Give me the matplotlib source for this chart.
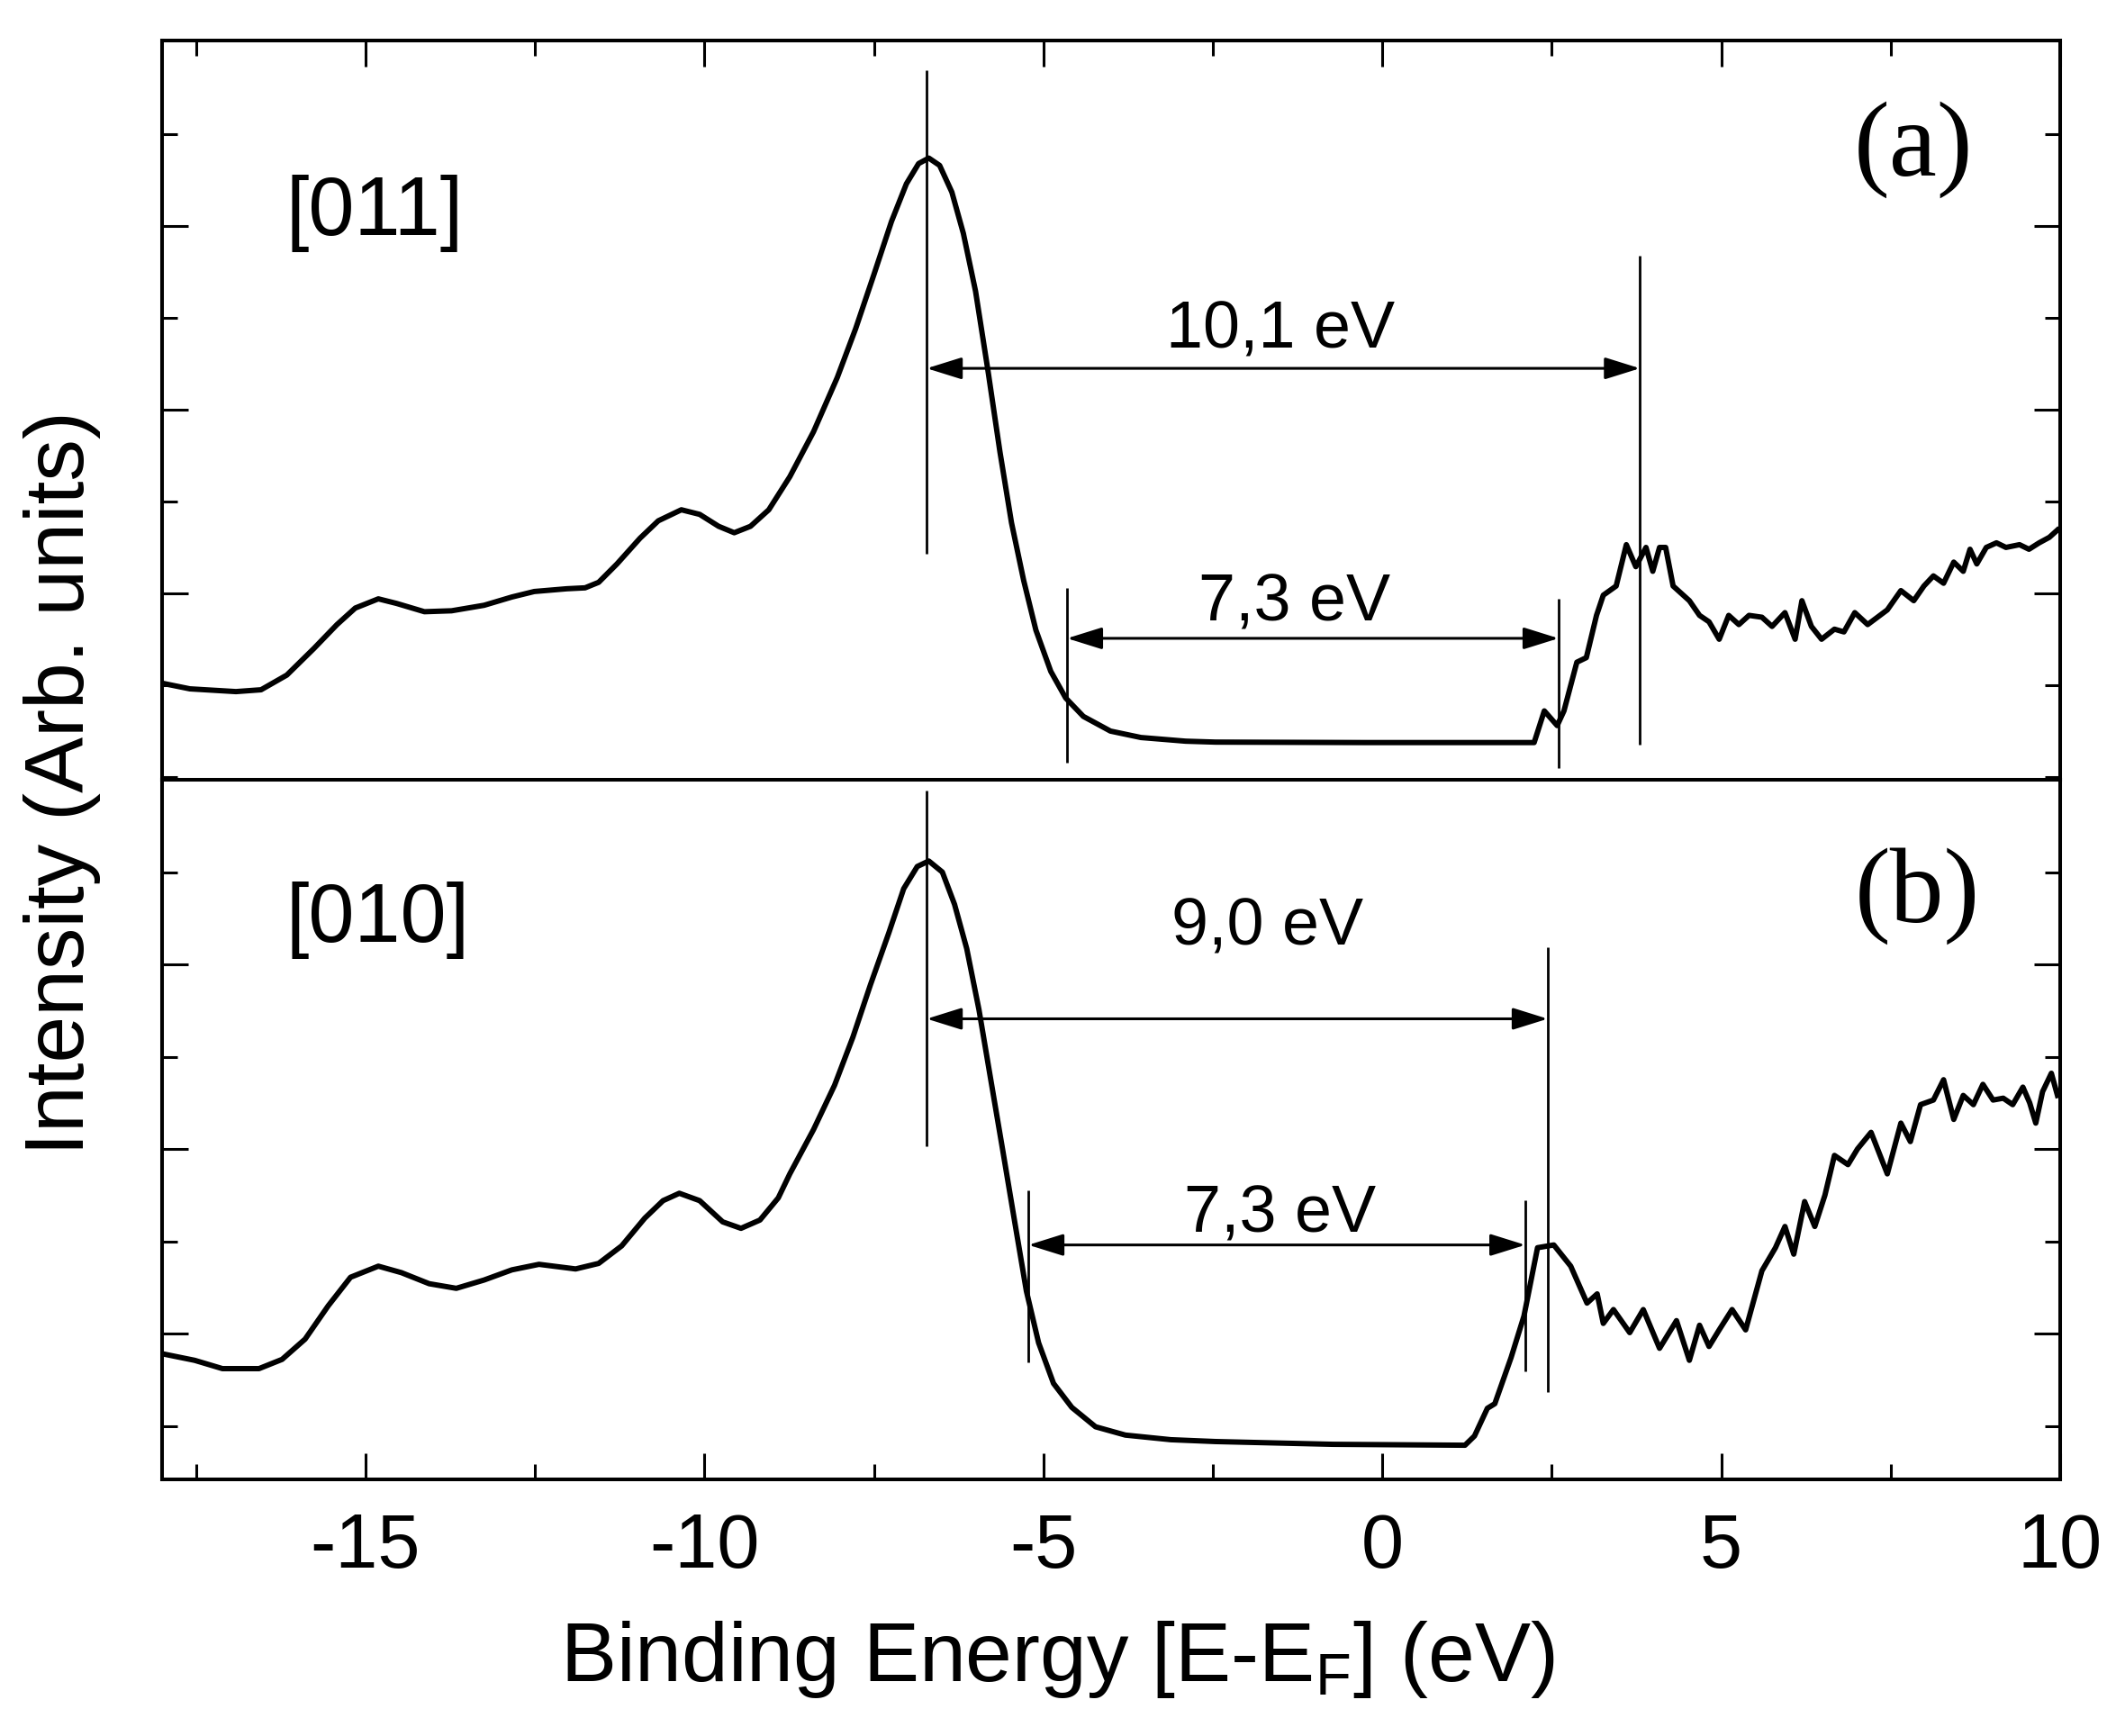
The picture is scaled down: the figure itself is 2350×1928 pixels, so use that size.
import matplotlib
matplotlib.use('Agg')
import matplotlib.pyplot as plt
from matplotlib.ticker import MultipleLocator, FixedLocator

plt.rcParams['font.family'] = ['Liberation Sans', 'DejaVu Sans']
plt.rcParams['mathtext.fontset'] = 'custom'
plt.rcParams['mathtext.rm'] = 'Liberation Sans'
plt.rcParams['axes.unicode_minus'] = False

# panel (a) [011]
xa = [-17.99, -17.59, -16.91, -16.54, -16.16, -15.76, -15.42, -15.15, -14.81, -14.54,
      -14.13, -13.73, -13.25, -12.84, -12.51, -12.03, -11.76, -11.56, -11.29, -10.95,
      -10.68, -10.34, -10.07, -9.79, -9.56, -9.32, -9.05, -8.74, -8.39, -8.04,
      -7.77, -7.50, -7.24, -7.02, -6.84, -6.69, -6.53, -6.35, -6.18, -6.00,
      -5.82, -5.64, -5.47, -5.29, -5.11, -4.89, -4.67, -4.41, -4.01, -3.56,
      -2.90, -2.46, -0.24, 2.24, 2.39, 2.58, 2.68, 2.87, 3.01, 3.16,
      3.26, 3.45, 3.60, 3.74, 3.89, 3.99, 4.09, 4.18, 4.29, 4.53,
      4.68, 4.82, 4.97, 5.11, 5.26, 5.41, 5.60, 5.75, 5.94, 6.09,
      6.19, 6.33, 6.48, 6.67, 6.81, 6.97, 7.16, 7.45, 7.65, 7.84,
      7.99, 8.13, 8.28, 8.43, 8.57, 8.67, 8.77, 8.91, 9.06, 9.20,
      9.40, 9.54, 9.69, 9.84, 9.96]
ya = [1.02, 0.96, 0.93, 0.95, 1.11, 1.40, 1.66, 1.84, 1.94, 1.89,
      1.80, 1.81, 1.87, 1.96, 2.02, 2.05, 2.06, 2.12, 2.32, 2.60,
      2.79, 2.91, 2.86, 2.73, 2.66, 2.73, 2.91, 3.27, 3.76, 4.35,
      4.88, 5.47, 6.05, 6.46, 6.68, 6.74, 6.66, 6.37, 5.92, 5.29,
      4.44, 3.54, 2.77, 2.14, 1.60, 1.15, 0.86, 0.66, 0.50, 0.43,
      0.39, 0.38, 0.375, 0.375, 0.72, 0.56, 0.72, 1.25, 1.30, 1.76,
      1.98, 2.08, 2.53, 2.29, 2.50, 2.24, 2.50, 2.50, 2.08, 1.92,
      1.76, 1.69, 1.50, 1.76, 1.66, 1.76, 1.74, 1.64, 1.79, 1.50,
      1.92, 1.64, 1.50, 1.61, 1.58, 1.79, 1.66, 1.82, 2.03, 1.92,
      2.08, 2.19, 2.11, 2.34, 2.24, 2.48, 2.32, 2.50, 2.55, 2.50,
      2.53, 2.48, 2.55, 2.61, 2.69]

# panel (b) [010]
xb = [-17.99, -17.52, -17.11, -16.57, -16.23, -15.89, -15.55, -15.22, -14.81, -14.47,
      -14.06, -13.66, -13.25, -12.84, -12.44, -11.90, -11.56, -11.22, -10.88, -10.61,
      -10.37, -10.07, -9.73, -9.46, -9.18, -8.91, -8.74, -8.39, -8.08, -7.81,
      -7.55, -7.28, -7.06, -6.86, -6.69, -6.49, -6.31, -6.13, -5.95, -5.78,
      -5.60, -5.42, -5.25, -5.07, -4.85, -4.58, -4.23, -3.79, -3.12, -2.46,
      -0.73, 1.22, 1.36, 1.55, 1.66, 1.90, 2.09, 2.29, 2.53, 2.78,
      3.02, 3.17, 3.26, 3.41, 3.65, 3.85, 4.09, 4.34, 4.53, 4.68,
      4.82, 4.97, 5.16, 5.36, 5.60, 5.80, 5.94, 6.07, 6.23, 6.38,
      6.53, 6.67, 6.87, 7.01, 7.21, 7.45, 7.65, 7.79, 7.94, 8.13,
      8.28, 8.43, 8.57, 8.72, 8.86, 9.01, 9.16, 9.30, 9.45, 9.55,
      9.64, 9.74, 9.87, 9.96]
yb = [0.78, 0.71, 0.62, 0.62, 0.72, 0.94, 1.30, 1.61, 1.73, 1.66,
      1.54, 1.49, 1.58, 1.69, 1.75, 1.70, 1.76, 1.95, 2.25, 2.44,
      2.52, 2.44, 2.21, 2.14, 2.23, 2.47, 2.73, 3.21, 3.69, 4.21,
      4.78, 5.34, 5.82, 6.06, 6.12, 6.00, 5.65, 5.17, 4.51, 3.77,
      2.99, 2.20, 1.46, 0.90, 0.46, 0.20, -0.01, -0.10, -0.15, -0.17,
      -0.20, -0.21, -0.11, 0.19, 0.24, 0.74, 1.19, 1.93, 1.96, 1.73,
      1.33, 1.43, 1.11, 1.26, 1.01, 1.26, 0.84, 1.14, 0.71, 1.09,
      0.86, 1.04, 1.26, 1.04, 1.68, 1.93, 2.16, 1.86, 2.43, 2.16,
      2.50, 2.93, 2.83, 3.00, 3.18, 2.73, 3.28, 3.08, 3.48, 3.53,
      3.75, 3.32, 3.58, 3.48, 3.70, 3.53, 3.55, 3.48, 3.67, 3.50,
      3.28, 3.62, 3.82, 3.58]

# marker lines: x, y_low, y_high
a_lines_x = [-6.72, 3.80, -4.65, 2.60]
a_lines_lo = [2.43, 0.35, 0.16, 0.10]
a_lines_hi = [7.70, 5.68, 2.06, 1.94]
b_lines_x = [-6.72, 2.44, -5.22, 2.11]
b_lines_lo = [3.03, 0.37, 0.69, 0.59]
b_lines_hi = [6.88, 5.19, 2.55, 2.44]

# arrows: x start, x end, y, label, label x, label y
a_arrows = [(-6.72, 3.80, 4.45, '10,1 eV', -1.5, 4.94),
            (-4.65, 2.60, 1.51, '7,3 eV', -1.3, 1.97)]
b_arrows = [(-6.72, 2.44, 4.41, '9,0 eV', -1.70, 5.47),
            (-5.22, 2.11, 1.96, '7,3 eV', -1.51, 2.36)]

fig = plt.figure(figsize=(23.5, 19.28), dpi=100)
ax1 = fig.add_axes([0.0766, 0.55083, 0.89702, 0.42583])
ax2 = fig.add_axes([0.0766, 0.14782, 0.89702, 0.40301])

panels = [
    (ax1, xa, ya, a_lines_x, a_lines_lo, a_lines_hi, a_arrows, (-0.03, 8.02),
     [2, 4, 6], [0, 1, 3, 5, 7], '[011]', -14.87, 6.23, '(a)', 7.84, 6.83),
    (ax2, xb, yb, b_lines_x, b_lines_lo, b_lines_hi, b_arrows, (-0.58, 7.0),
     [1, 3, 5], [0, 2, 4, 6], '[010]', -14.82, 5.57, '(b)', 7.89, 5.74),
]

for (ax, x, y, lx, llo, lhi, arrows, ylim, ymaj, ymin,
     tag, tx, ty, letter, lx_, ly_) in panels:
    ax.plot(x, y, color='black', lw=4.3, solid_joinstyle='round')
    ax.vlines(lx, llo, lhi, color='black', lw=2.0)
    for x0, x1, yy, lab, labx, laby in arrows:
        ax.annotate('', xy=(x1, yy), xytext=(x0, yy),
                    arrowprops=dict(arrowstyle='<|-|>,head_length=0.8,head_width=0.25',
                                    mutation_scale=30, lw=2.2, color='black',
                                    shrinkA=0, shrinkB=0))
        ax.text(labx, laby, lab, fontsize=53, ha='center', va='center_baseline')
    ax.text(tx, ty, tag, fontsize=66, ha='center', va='center_baseline')
    ax.text(lx_, ly_, letter, fontsize=86, ha='center', va='center',
            family=['Liberation Serif', 'DejaVu Serif'])
    ax.set_xlim(-18, 10)
    ax.set_ylim(*ylim)
    ax.xaxis.set_major_locator(MultipleLocator(5))
    ax.xaxis.set_minor_locator(MultipleLocator(2.5))
    ax.yaxis.set_major_locator(FixedLocator(ymaj))
    ax.yaxis.set_minor_locator(FixedLocator(ymin))
    ax.set_yticklabels([])
    ax.tick_params(which='both', direction='in', left=True, right=True, width=2.2)
    ax.tick_params(which='major', length=21)
    ax.tick_params(which='minor', length=12)
    for s in ax.spines.values():
        s.set_linewidth(2.9)

ax1.tick_params(axis='x', which='both', top=True, bottom=False,
                labelbottom=False, labeltop=False)
ax2.tick_params(axis='x', which='both', top=False, bottom=True)
ax2.tick_params(axis='x', which='major', labelsize=61, pad=26)

fig.text(0.4996, 0.0316, 'Binding Energy [E-E$_\\mathrm{F}$] (eV)', fontsize=67,
         ha='center', va='baseline')
fig.text(0.0294, 0.5488, 'Intensity (Arb. units)', fontsize=67, rotation=90,
         ha='center', va='center')

plt.savefig('out.png', dpi=100)
